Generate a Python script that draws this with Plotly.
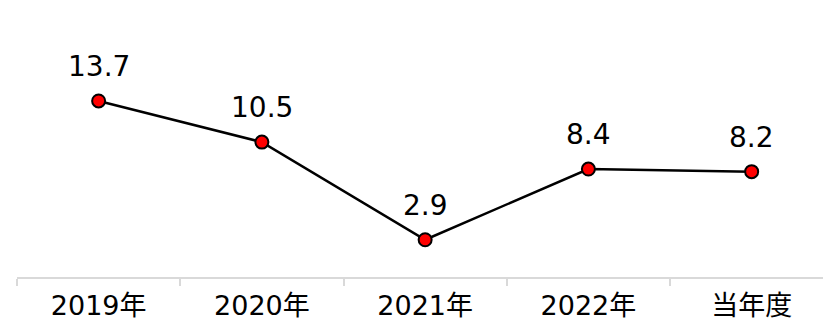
import plotly.graph_objects as go

# Yearly values
categories = ["2019年", "2020年", "2021年", "2022年", "当年度"]
values = [13.7, 10.5, 2.9, 8.4, 8.2]
value_labels = ["13.7", "10.5", "2.9", "8.4", "8.2"]

FONT = "DejaVu Sans, Noto Sans CJK JP, sans-serif"

fig = go.Figure(
    go.Scatter(
        x=categories,
        y=values,
        mode="lines+markers",
        line=dict(color="#000000", width=2.5),
        marker=dict(size=13, color="#ff0000", line=dict(color="#000000", width=2)),
        cliponaxis=False,
        hoverinfo="skip",
    )
)

# Value labels above each point
for cat, val, lab in zip(categories, values, value_labels):
    fig.add_annotation(
        x=cat,
        y=val,
        text=lab,
        showarrow=False,
        xanchor="center",
        yanchor="bottom",
        yshift=16,
        font=dict(family=FONT, size=28, color="#000000"),
    )

fig.update_layout(
    width=823,
    height=324,
    margin=dict(l=17, r=0, t=20, b=47),
    paper_bgcolor="#ffffff",
    plot_bgcolor="#ffffff",
    showlegend=False,
    font=dict(family=FONT, size=27, color="#000000"),
)

fig.update_xaxes(
    type="category",
    range=[-0.5, 4.437],
    automargin=False,
    showline=True,
    linecolor="#d9d9d9",
    linewidth=2,
    ticks="outside",
    tickson="boundaries",
    ticklen=7,
    tickwidth=2,
    tickcolor="#d9d9d9",
    ticklabelstandoff=4,
    showgrid=False,
    zeroline=False,
    tickfont=dict(family=FONT, size=27, color="#000000"),
)

fig.update_yaxes(
    range=[0, 20],
    visible=False,
    automargin=False,
    showgrid=False,
    zeroline=False,
)

fig.write_html("out.html")
